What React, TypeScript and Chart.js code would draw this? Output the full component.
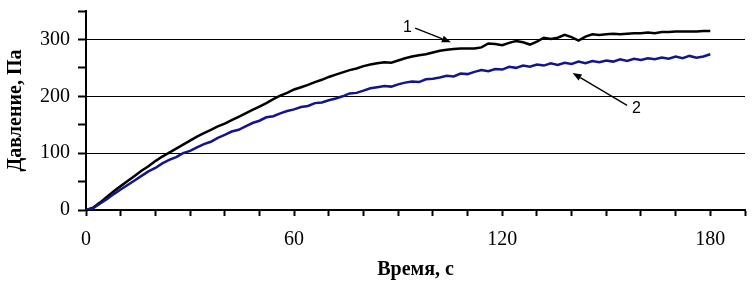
import { useEffect, useRef } from "react";
import { Chart, registerables } from "chart.js";

Chart.register(...registerables);

// ---- data ----
const timeSec = [
  0, 2, 4, 6, 8, 10, 12, 14, 16, 18,
  20, 22, 24, 26, 28, 30, 32, 34, 36, 38,
  40, 42, 44, 46, 48, 50, 52, 54, 56, 58,
  60, 62, 64, 66, 68, 70, 72, 74, 76, 78,
  80, 82, 84, 86, 88, 90, 92, 94, 96, 98,
  100, 102, 104, 106, 108, 110, 112, 114, 116, 118,
  120, 122, 124, 126, 128, 130, 132, 134, 136, 138,
  140, 142, 144, 146, 148, 150, 152, 154, 156, 158,
  160, 162, 164, 166, 168, 170, 172, 174, 176, 178,
  180,
];

// curve 1 (black)
const pressure1 = [
  0, 4, 13, 23, 33, 42, 51, 60, 69, 77,
  86, 94, 101, 108, 115, 122, 129, 135, 141, 147,
  152, 158, 164, 170, 176, 182, 188, 195, 201, 206,
  212, 216, 220, 225, 229, 234, 238, 242, 246, 249,
  253, 256, 258, 260, 259, 263, 267, 270, 272, 274,
  277, 280, 282, 283, 284, 284, 284, 286, 293, 292,
  290, 294, 297, 295, 291, 296, 303, 301, 303, 308,
  304, 298, 305, 309, 308, 309, 310, 309, 310, 311,
  311, 312, 311, 313, 313, 314, 314, 314, 314, 315,
  315,
];

// curve 2 (blue)
const pressure2 = [
  0, 3, 11, 19, 28, 36, 44, 52, 60, 68,
  74, 82, 88, 93, 100, 104, 110, 116, 120, 127,
  132, 138, 141, 147, 153, 157, 163, 165, 170, 174,
  177, 181, 183, 188, 189, 193, 196, 200, 205, 206,
  210, 214, 216, 218, 217, 221, 224, 226, 225, 230,
  231, 233, 236, 235, 240, 239, 243, 246, 244, 248,
  247, 252, 250, 254, 252, 256, 254, 258, 255, 259,
  257, 261, 258, 262, 260, 263, 261, 265, 262, 266,
  264, 267, 265, 268, 266, 270, 267, 271, 268, 270,
  274,
];

const yTickLabels = [0, 100, 200, 300];
const yGridValues = [100, 200, 300];
const xTickLabels = [0, 60, 120, 180];

const xTitle = "Время, с";
const yTitle = "Давление, Па";

// curve callouts, in data coordinates (time, pressure)
const calloutText = ["1", "2"];
const calloutTextAt = [
  [92.7, 321],
  [158.7, 179],
];
const calloutArrowFrom = [
  [94.9, 320],
  [156.0, 184],
];
const calloutArrowTo = [
  [105.2, 295],
  [140.3, 241],
];

const SERIF = "'Liberation Serif', 'Times New Roman', serif";
const SANS = "'Liberation Sans', Arial, sans-serif";

const calloutPlugin = {
  id: "callouts",
  afterDatasetsDraw(chart: any) {
    const { ctx, scales } = chart;
    const xs = scales.x;
    const ys = scales.y;
    ctx.save();
    ctx.strokeStyle = "#000";
    ctx.fillStyle = "#000";
    ctx.lineWidth = 1.3;
    for (let i = 0; i < calloutText.length; i++) {
      const x1 = xs.getPixelForValue(calloutArrowFrom[i][0]);
      const y1 = ys.getPixelForValue(calloutArrowFrom[i][1]);
      const x2 = xs.getPixelForValue(calloutArrowTo[i][0]);
      const y2 = ys.getPixelForValue(calloutArrowTo[i][1]);
      const ang = Math.atan2(y2 - y1, x2 - x1);
      const headLen = 9;
      const headW = 3.5;
      const bx = x2 - headLen * Math.cos(ang);
      const by = y2 - headLen * Math.sin(ang);
      ctx.beginPath();
      ctx.moveTo(x1, y1);
      ctx.lineTo(bx, by);
      ctx.stroke();
      ctx.beginPath();
      ctx.moveTo(x2, y2);
      ctx.lineTo(bx + headW * Math.sin(ang), by - headW * Math.cos(ang));
      ctx.lineTo(bx - headW * Math.sin(ang), by + headW * Math.cos(ang));
      ctx.closePath();
      ctx.fill();

      ctx.font = `16px ${SANS}`;
      ctx.textAlign = "center";
      ctx.textBaseline = "middle";
      ctx.fillText(
        calloutText[i],
        xs.getPixelForValue(calloutTextAt[i][0]),
        ys.getPixelForValue(calloutTextAt[i][1])
      );
    }
    ctx.restore();
  },
};

export default function App() {
  const canvasRef = useRef<HTMLCanvasElement | null>(null);

  useEffect(() => {
    document.body.style.margin = "0";
    const canvas = canvasRef.current;
    if (!canvas) return;

    const chart = new Chart(canvas, {
      type: "line",
      data: {
        datasets: [
          {
            label: "2",
            data: timeSec.map((t, i) => ({ x: t, y: pressure2[i] })),
            borderColor: "#14148c",
            borderWidth: 2.5,
            pointRadius: 0,
            tension: 0,
            fill: false,
            order: 0,
          },
          {
            label: "1",
            data: timeSec.map((t, i) => ({ x: t, y: pressure1[i] })),
            borderColor: "#000000",
            borderWidth: 2.5,
            pointRadius: 0,
            tension: 0,
            fill: false,
            order: 1,
          },
        ],
      },
      options: {
        animation: false,
        responsive: false,
        devicePixelRatio: 1,
        layout: { padding: { top: 11, right: 7, left: 0, bottom: 0 } },
        plugins: {
          legend: { display: false },
          tooltip: { enabled: false },
        },
        scales: {
          x: {
            type: "linear",
            min: 0,
            max: 190,
            ticks: {
              stepSize: 10,
              autoSkip: false,
              maxRotation: 0,
              color: "#000",
              padding: 12,
              font: { family: SERIF, size: 20 },
              callback: (v: any) => (xTickLabels.includes(Number(v)) ? String(v) : ""),
            },
            grid: {
              drawOnChartArea: false,
              tickLength: 6,
              tickColor: "#000",
              tickWidth: 2,
            },
            border: { display: true, color: "#000", width: 2 },
            title: {
              display: true,
              text: xTitle,
              color: "#000",
              font: { family: SERIF, size: 20, weight: "bold" },
              padding: { top: 0, bottom: 9 },
            },
            afterFit: (s: any) => {
              s.height = 81;
              s.paddingLeft = 0;
              s.paddingRight = 0;
            },
          },
          y: {
            type: "linear",
            min: 0,
            max: 350,
            ticks: {
              stepSize: 50,
              autoSkip: false,
              color: "#000",
              padding: 8,
              font: { family: SERIF, size: 20 },
              callback: (v: any) => (yTickLabels.includes(Number(v)) ? String(v) : ""),
            },
            grid: {
              color: (c: any) =>
                c.tick && yGridValues.includes(c.tick.value) ? "#000" : "rgba(0,0,0,0)",
              lineWidth: 1,
              tickLength: 8,
              tickColor: "#000",
              tickWidth: 2,
            },
            border: { display: true, color: "#000", width: 2 },
            title: {
              display: true,
              text: yTitle,
              color: "#000",
              font: { family: SERIF, size: 20, weight: "bold" },
              padding: { top: 4, bottom: 0 },
            },
            afterFit: (s: any) => {
              s.width = 86;
              s.paddingTop = 0;
              s.paddingBottom = 0;
            },
          },
        },
      },
      plugins: [calloutPlugin],
    });

    return () => chart.destroy();
  }, []);

  return (
    <div style={{ width: 752, height: 291 }}>
      <canvas ref={canvasRef} width={752} height={291} />
    </div>
  );
}
